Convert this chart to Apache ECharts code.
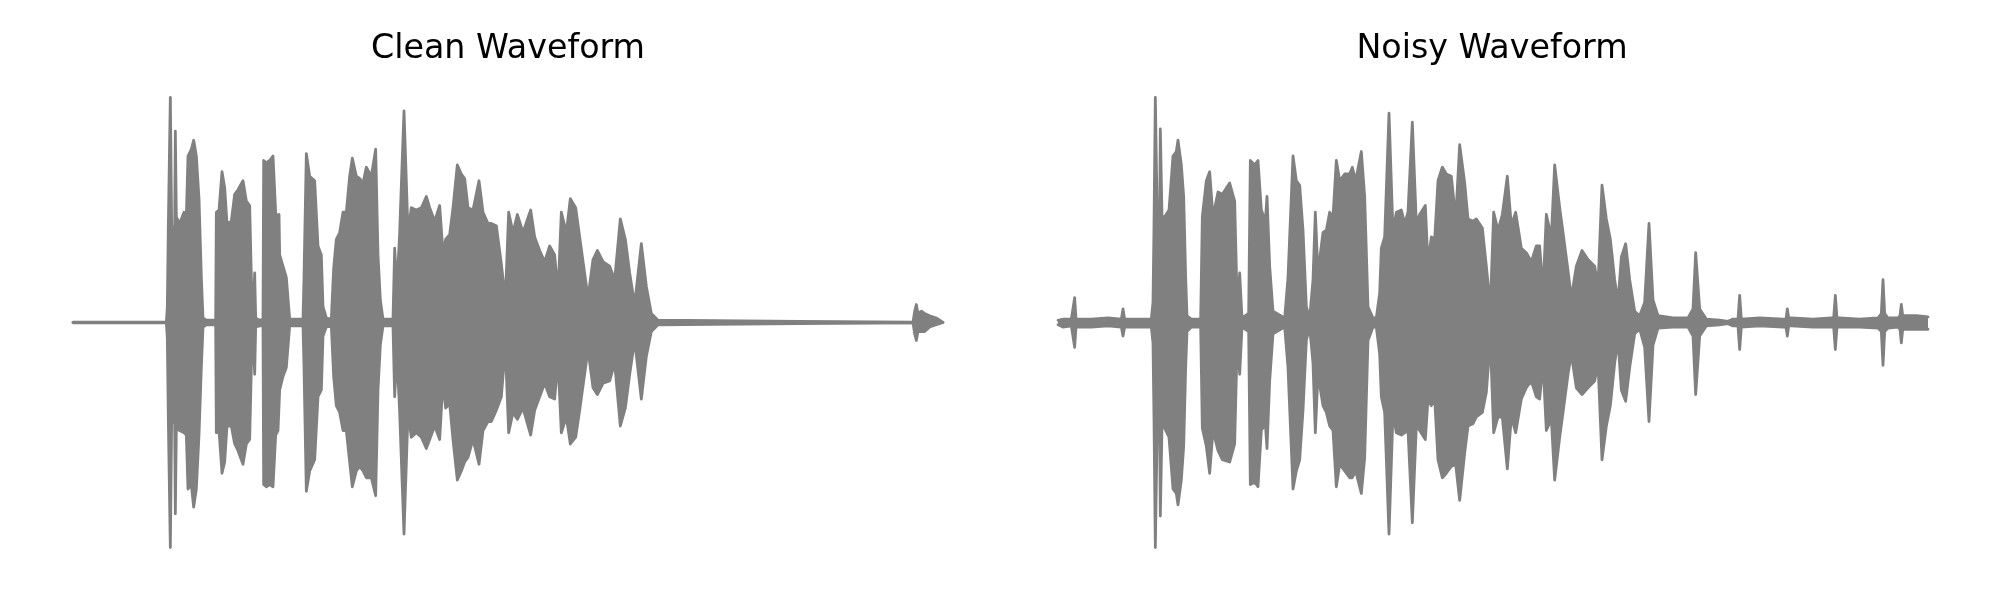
<!DOCTYPE html>
<html>
<head>
<meta charset="utf-8">
<script src="https://cdn.jsdelivr.net/npm/echarts@6/dist/echarts.min.js"></script>
<style>
html,body{margin:0;padding:0;background:#fff;}
#chart{width:2000px;height:600px;}
</style>
</head>
<body>
<div id="chart"></div>
<script>
// Time in ms (recording length 2610 ms); amplitude normalised to peak = 1
const titles = ['Clean Waveform', 'Noisy Waveform'];

const cleanTime = [
  0,280,283,286,292,296,305,307,310,320,333,340,345,355,362,370,378,385,390,400,420,428,
  430,438,447,455,462,475,485,495,510,520,530,535,540,545,548,560,570,
  572,580,590,600,608,615,618,620,630,640,650,690,
  693,700,710,725,735,745,750,760,775,
  782,790,800,810,820,830,838,850,860,870,880,895,908,915,922,930,960,
  965,972,980,993,1005,1015,1030,1045,1060,1070,1085,1100,1110,1118,1130,1140,
  1153,1165,1175,1185,1200,1218,1230,1245,1255,1270,1285,1297,
  1307,1320,1333,1350,1373,1385,1400,1415,1430,1445,1455,
  1465,1480,1492,1508,1520,1532,1545,
  1560,1573,1590,1610,1625,1642,1657,1670,1685,1705,1720,1735,1755,
  2520,2525,2530,2535,2545,2555,2570,2590,2610];
const cleanUpper = [
  0,0,0.07,0.43,1.00,0.43,0.42,0.85,0.47,0.44,0.49,0.47,0.74,0.77,0.81,0.74,0.55,0.20,0.02,0.01,0.01,0.01,
  0.49,0.50,0.67,0.60,0.44,0.45,0.57,0.59,0.63,0.54,0.52,0.20,0.02,0.22,0.02,0.01,0.015,
  0.72,0.71,0.72,0.74,0.49,0.45,0.48,0.30,0.25,0.20,0.015,0.015,
  0.20,0.75,0.65,0.63,0.34,0.30,0.07,0.02,0.015,
  0.24,0.37,0.40,0.49,0.49,0.65,0.73,0.65,0.64,0.62,0.69,0.65,0.77,0.30,0.10,0.015,0.015,
  0.33,0.15,0.40,0.94,0.40,0.51,0.50,0.51,0.56,0.51,0.45,0.52,0.31,0.37,0.39,0.51,
  0.70,0.66,0.64,0.51,0.50,0.63,0.49,0.44,0.44,0.43,0.26,0.10,
  0.49,0.40,0.48,0.40,0.50,0.38,0.32,0.27,0.34,0.30,0.13,
  0.49,0.40,0.55,0.51,0.38,0.25,0.11,
  0.28,0.32,0.27,0.25,0.19,0.46,0.37,0.22,0.08,0.35,0.16,0.04,0.01,
  0,0.05,0.08,0.04,0.05,0.04,0.03,0.02,0];
const cleanLower = [
  0,0,-0.07,-0.43,-1.00,-0.43,-0.45,-0.85,-0.47,-0.48,-0.49,-0.50,-0.74,-0.72,-0.82,-0.74,-0.50,-0.20,-0.02,-0.01,-0.01,-0.01,
  -0.49,-0.48,-0.67,-0.62,-0.46,-0.46,-0.54,-0.57,-0.63,-0.54,-0.52,-0.20,-0.02,-0.23,-0.02,-0.015,-0.015,
  -0.72,-0.73,-0.72,-0.73,-0.50,-0.48,-0.48,-0.30,-0.24,-0.20,-0.015,-0.015,
  -0.20,-0.75,-0.66,-0.61,-0.33,-0.30,-0.06,-0.02,-0.015,
  -0.24,-0.37,-0.40,-0.48,-0.48,-0.62,-0.73,-0.66,-0.64,-0.66,-0.69,-0.69,-0.77,-0.30,-0.10,-0.015,-0.015,
  -0.33,-0.14,-0.40,-0.94,-0.40,-0.51,-0.49,-0.51,-0.56,-0.52,-0.46,-0.52,-0.26,-0.38,-0.36,-0.52,
  -0.70,-0.66,-0.62,-0.60,-0.52,-0.63,-0.48,-0.44,-0.44,-0.39,-0.33,-0.11,
  -0.49,-0.40,-0.43,-0.38,-0.50,-0.39,-0.33,-0.27,-0.33,-0.34,-0.17,
  -0.49,-0.42,-0.54,-0.51,-0.39,-0.26,-0.12,
  -0.29,-0.32,-0.27,-0.26,-0.18,-0.46,-0.38,-0.23,-0.08,-0.34,-0.15,-0.04,-0.01,
  0,-0.05,-0.08,-0.04,-0.04,-0.04,-0.02,-0.01,0];

const noisyTime = [
  0,15,40,46,50,54,60,100,150,190,195,200,210,280,
  285,288,292,298,305,307,312,320,333,345,355,360,370,377,383,387,400,
  428,433,445,455,465,480,493,515,530,538,545,552,
  572,577,590,600,610,622,627,635,645,680,
  690,705,715,725,735,745,755,
  765,772,780,795,805,815,825,835,845,860,875,883,893,910,920,
  930,945,955,965,970,980,993,1005,1015,1030,1040,1050,1063,1075,1085,1102,
  1110,1120,1130,1140,1153,1165,1180,1193,1205,1220,1230,1245,1255,1273,1285,1297,
  1307,1320,1333,1348,1360,1373,1390,1405,1420,1435,1445,1455,
  1465,1480,1490,1505,1515,1530,1540,
  1555,1572,1590,1610,1620,1632,1645,1657,1670,1680,1690,1703,1715,1730,1745,
  1760,1773,1785,1800,1845,1890,1905,1913,1925,1945,1985,2010,2025,2040,2045,2050,2055,2105,
  2175,2184,2188,2192,2200,2265,2320,2327,2332,2337,2345,2405,2460,2470,2475,2480,2490,
  2520,2526,2530,2534,2540,2575,2610];
const noisyUpper = [
  0.01,0.015,0.015,0.015,0.11,0.015,0.015,0.015,0.02,0.015,0.06,0.015,0.015,0.015,
  0.09,0.43,1.00,0.43,0.47,0.86,0.47,0.47,0.50,0.74,0.76,0.81,0.70,0.56,0.20,0.03,0.015,
  0.015,0.47,0.63,0.67,0.47,0.58,0.57,0.62,0.54,0.06,0.22,0.02,
  0.04,0.72,0.70,0.72,0.50,0.45,0.56,0.25,0.05,0.02,
  0.20,0.74,0.63,0.61,0.41,0.07,0.02,
  0.19,0.49,0.22,0.40,0.41,0.49,0.47,0.72,0.63,0.66,0.66,0.69,0.63,0.76,0.56,
  0.07,0.02,0.02,0.13,0.33,0.38,0.93,0.40,0.49,0.50,0.44,0.49,0.89,0.44,0.48,0.52,
  0.26,0.38,0.37,0.63,0.69,0.66,0.65,0.46,0.79,0.62,0.46,0.45,0.46,0.42,0.25,0.07,
  0.49,0.41,0.48,0.65,0.43,0.49,0.33,0.31,0.27,0.34,0.34,0.14,
  0.48,0.38,0.70,0.51,0.40,0.23,0.11,
  0.25,0.32,0.28,0.25,0.16,0.61,0.46,0.37,0.19,0.09,0.29,0.35,0.19,0.05,0.03,
  0.09,0.44,0.10,0.03,0.02,0.02,0.06,0.31,0.06,0.015,0.01,0.005,0.015,0.015,0.12,0.015,0.015,0.02,
  0.015,0.015,0.06,0.02,0.02,0.015,0.02,0.02,0.12,0.02,0.02,0.015,0.02,0.04,0.19,0.04,0.02,
  0.02,0.03,0.08,0.03,0.03,0.03,0.025];
const noisyLower = [
  -0.01,-0.02,-0.015,-0.015,-0.11,-0.02,-0.02,-0.02,-0.015,-0.02,-0.06,-0.02,-0.02,-0.02,
  -0.09,-0.43,-1.00,-0.43,-0.45,-0.86,-0.46,-0.47,-0.51,-0.74,-0.76,-0.81,-0.70,-0.55,-0.20,-0.04,-0.02,
  -0.02,-0.47,-0.55,-0.67,-0.48,-0.57,-0.61,-0.62,-0.54,-0.06,-0.23,-0.02,
  -0.04,-0.72,-0.71,-0.73,-0.48,-0.45,-0.56,-0.26,-0.05,-0.02,
  -0.20,-0.74,-0.66,-0.61,-0.39,-0.08,-0.02,
  -0.18,-0.49,-0.23,-0.37,-0.40,-0.46,-0.48,-0.73,-0.63,-0.66,-0.69,-0.69,-0.66,-0.76,-0.60,
  -0.08,-0.02,-0.02,-0.14,-0.33,-0.40,-0.94,-0.40,-0.49,-0.50,-0.49,-0.48,-0.89,-0.46,-0.48,-0.52,
  -0.34,-0.37,-0.34,-0.61,-0.69,-0.67,-0.64,-0.63,-0.79,-0.58,-0.46,-0.45,-0.42,-0.40,-0.31,-0.08,
  -0.49,-0.42,-0.42,-0.65,-0.42,-0.49,-0.34,-0.29,-0.26,-0.33,-0.34,-0.18,
  -0.48,-0.43,-0.70,-0.51,-0.40,-0.23,-0.14,
  -0.29,-0.32,-0.29,-0.26,-0.18,-0.61,-0.46,-0.37,-0.18,-0.08,-0.30,-0.35,-0.20,-0.05,-0.03,
  -0.11,-0.44,-0.10,-0.025,-0.02,-0.02,-0.06,-0.32,-0.06,-0.015,-0.01,-0.005,-0.015,-0.015,-0.12,-0.02,-0.02,-0.015,
  -0.02,-0.02,-0.06,-0.015,-0.015,-0.02,-0.02,-0.02,-0.12,-0.02,-0.02,-0.02,-0.025,-0.04,-0.19,-0.04,-0.025,
  -0.02,-0.03,-0.09,-0.03,-0.03,-0.03,-0.03];

const GRAY = '#808080';
const chart = echarts.init(document.getElementById('chart'), null, {renderer: 'canvas'});

function pairs(t, v) { return t.map((x, i) => [x, v[i]]); }
function envSeries(idx, t, v, origin) {
  return {
    type: 'line', xAxisIndex: idx, yAxisIndex: idx,
    data: pairs(t, v), symbol: 'none', clip: false, silent: true,
    lineStyle: {color: GRAY, width: 2.8, join: 'round', cap: 'round'},
    areaStyle: {color: GRAY, opacity: 1, origin: origin}
  };
}

const titleStyle = {fontFamily: 'DejaVu Sans', fontWeight: 'normal', fontSize: 33.3, color: '#000'};
const option = {
  animation: false,
  backgroundColor: '#ffffff',
  title: [
    {text: titles[0], left: 508, top: 33, padding: 0, textAlign: 'center', textStyle: titleStyle},
    {text: titles[1], left: 1492, top: 33, padding: 0, textAlign: 'center', textStyle: titleStyle}
  ],
  grid: [
    {left: 73, top: 97.5, width: 870, height: 450},
    {left: 1058, top: 97.5, width: 870, height: 450}
  ],
  xAxis: [
    {type: 'value', gridIndex: 0, min: 0, max: 2610, show: false},
    {type: 'value', gridIndex: 1, min: 0, max: 2610, show: false}
  ],
  yAxis: [
    {type: 'value', gridIndex: 0, min: -1, max: 1, show: false},
    {type: 'value', gridIndex: 1, min: -1, max: 1, show: false}
  ],
  series: [
    envSeries(0, cleanTime, cleanUpper, -0.008),
    envSeries(0, cleanTime, cleanLower, 0.008),
    envSeries(1, noisyTime, noisyUpper, -0.008),
    envSeries(1, noisyTime, noisyLower, 0.008)
  ]
};
chart.setOption(option);
</script>
</body>
</html>
